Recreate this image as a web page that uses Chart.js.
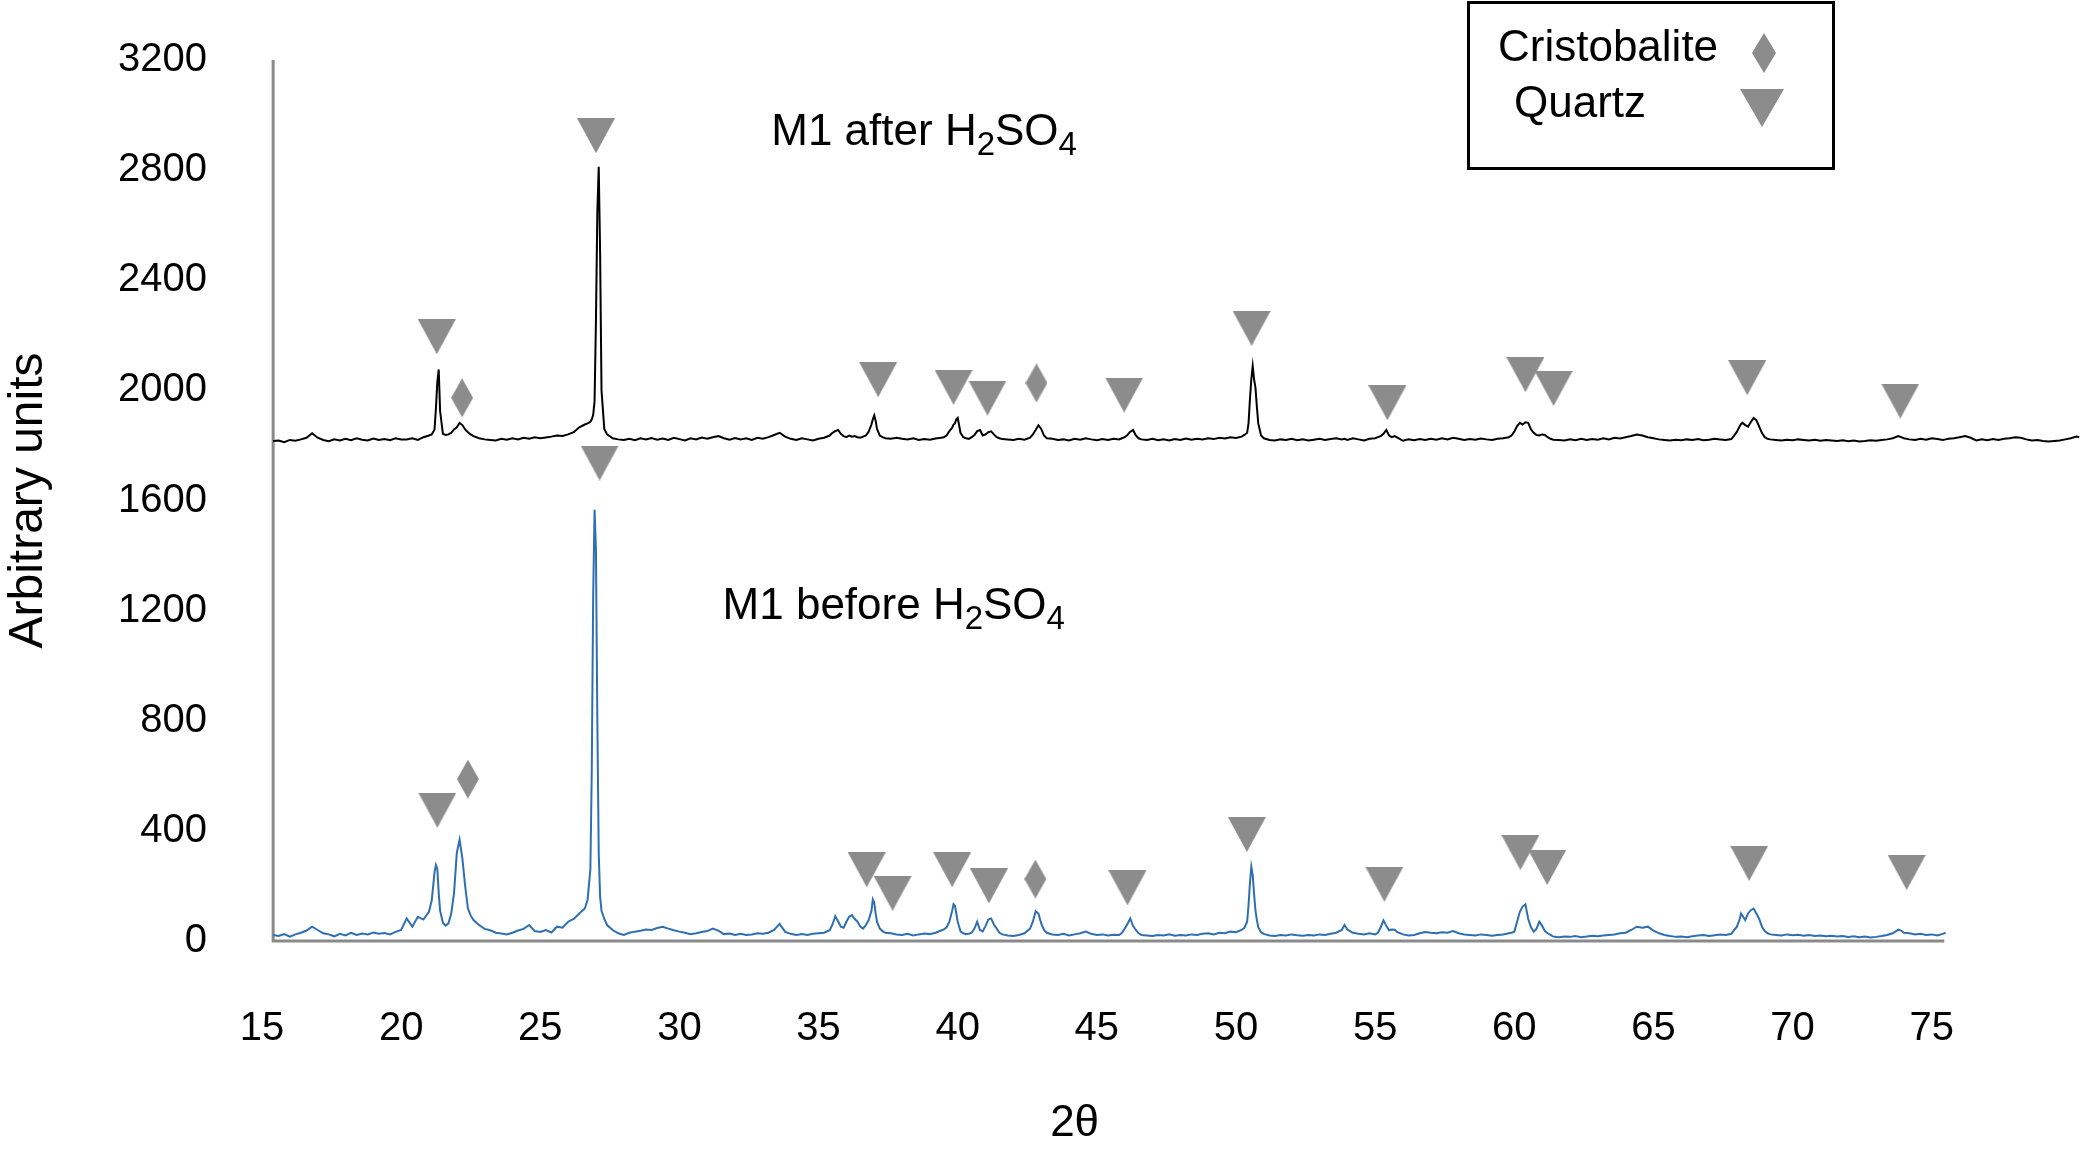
<!DOCTYPE html>
<html>
<head>
<meta charset="utf-8">
<script src="https://cdn.jsdelivr.net/npm/chart.js@4.4.1/dist/chart.umd.min.js"></script>
<style>
  html, body { margin: 0; padding: 0; background: #fff; }
  canvas { display: block; }
</style>
</head>
<body>
<canvas id="xrdChart" width="2088" height="1153"></canvas>
<script>
// 2-theta grid (degrees), shared by both patterns
const twoTheta = [
  15.4,15.6,15.8,16.0,16.2,16.4,16.6,16.8,17.0,17.2,17.4,17.6,17.8,18.0,18.2,18.4,18.6,18.8,19.0,19.2,19.4,19.6,19.8,20.0,
  20.2,20.4,20.6,20.8,21.0,21.1,21.2,21.25,21.3,21.35,21.4,21.5,21.6,21.7,21.8,21.9,22.0,22.1,22.2,22.3,22.4,22.5,22.6,22.8,23.0,
  23.2,23.4,23.6,23.8,24.0,24.2,24.4,24.6,24.8,25.0,25.2,25.4,25.6,25.8,26.0,26.2,26.4,26.6,
  26.7,26.8,26.85,26.9,26.95,27.0,27.05,27.1,27.15,27.2,27.3,27.4,27.6,27.8,
  28.0,28.2,28.4,28.6,28.8,29.0,29.2,29.4,29.6,29.8,30.0,30.2,30.4,30.6,30.8,31.0,31.2,31.4,31.6,31.8,32.0,32.2,32.4,32.6,32.8,33.0,33.2,33.4,33.6,33.8,34.0,34.2,34.4,34.6,34.8,35.0,35.2,35.4,
  35.5,35.6,35.7,35.8,35.9,36.0,36.1,36.2,36.3,36.4,36.5,36.6,36.7,36.8,36.9,36.95,37.0,37.05,37.1,37.2,37.3,37.4,37.6,
  37.8,38.0,38.2,38.4,38.6,38.8,39.0,39.2,39.4,
  39.5,39.6,39.7,39.8,39.85,39.9,39.95,40.0,40.1,40.2,40.3,40.4,40.5,40.6,40.7,40.8,40.9,41.0,41.1,41.2,41.3,41.4,41.5,41.6,
  41.8,42.0,42.2,42.4,42.6,42.7,42.8,42.9,43.0,43.1,43.2,
  43.4,43.6,43.8,44.0,44.2,44.4,44.6,44.8,45.0,45.2,45.4,45.6,45.8,45.9,46.0,46.1,46.2,46.3,46.4,46.5,
  46.6,46.8,47.0,47.2,47.4,47.6,47.8,48.0,48.2,48.4,48.6,48.8,49.0,49.2,49.4,49.6,49.8,50.0,50.2,50.3,50.4,50.45,50.5,50.55,50.6,50.65,50.7,50.75,50.8,50.9,51.0,
  51.2,51.4,51.6,51.8,52.0,52.2,52.4,52.6,52.8,53.0,53.2,53.4,53.6,53.8,53.9,54.0,54.2,54.4,54.6,54.8,55.0,55.1,55.2,55.3,55.4,55.5,55.6,55.7,55.8,
  56.0,56.2,56.4,56.6,56.8,57.0,57.2,57.4,57.6,57.8,58.0,58.2,58.4,58.6,58.8,59.0,59.2,59.4,59.6,59.8,59.9,60.0,60.1,60.2,60.3,60.4,60.5,60.6,60.7,60.8,60.9,61.0,61.1,61.2,61.3,61.4,
  61.6,61.8,62.0,62.2,62.4,62.6,62.8,63.0,63.2,63.4,63.6,63.8,64.0,64.2,64.4,64.6,64.8,65.0,65.2,65.4,65.6,65.8,66.0,66.2,66.4,66.6,66.8,67.0,67.2,67.4,67.6,67.8,
  67.9,68.0,68.1,68.15,68.2,68.3,68.4,68.5,68.6,68.7,68.8,68.9,69.0,69.1,
  69.2,69.4,69.6,69.8,70.0,70.2,70.4,70.6,70.8,71.0,71.2,71.4,71.6,71.8,72.0,72.2,72.4,72.6,72.8,73.0,73.2,73.4,73.6,73.8,73.9,74.0,74.2,74.4,74.6,74.8,75.0,75.2,75.4,75.5,
  75.6,75.8,76.0,76.2,76.4,76.6,76.8,77.0,77.2,77.4,77.6,77.8,78.0,78.2,78.4,78.6,78.8,79.0,79.2,79.4,79.6,79.8,80.0,80.2,80.3
];

// M1 before H2SO4 (blue), stops at 75.5
const beforeH2SO4 = [
  22,18,25,16,24,30,38,52,40,28,24,17,26,20,30,22,27,24,31,26,29,24,33,40,
  82,52,88,78,106,148,250,276,262,175,110,66,56,64,100,173,320,368,300,200,118,92,76,58,44,
  39,30,27,24,30,38,44,58,36,33,40,31,52,48,70,80,100,118,
  150,260,620,1250,1566,1420,800,320,160,110,80,58,40,28,
  22,30,34,37,42,40,47,52,45,39,34,30,25,28,33,36,45,38,25,27,22,26,22,24,28,26,30,40,62,33,26,22,25,22,26,28,30,39,
  60,90,72,52,48,70,88,94,80,70,52,45,58,76,110,151,140,100,70,45,36,30,28,
  24,22,26,20,24,27,25,30,38,
  42,50,70,110,134,128,100,70,35,28,25,26,30,45,70,40,35,55,78,82,60,45,30,24,
  20,18,22,28,45,70,108,100,64,40,30,
  24,22,26,20,24,28,34,26,22,24,20,23,22,30,45,62,82,55,40,28,
  22,20,18,22,20,24,19,22,20,24,22,26,28,24,30,28,34,32,40,48,70,130,210,270,240,170,110,76,50,32,26,
  20,18,22,20,24,21,19,22,20,24,22,26,30,40,58,42,30,26,24,28,24,30,50,75,55,39,42,41,32,
  24,20,22,28,33,30,28,32,30,36,28,24,22,20,24,22,19,22,24,28,30,34,70,106,125,133,80,50,34,45,70,55,36,28,22,16,
  14,16,15,18,14,16,19,17,20,22,24,28,30,40,52,48,52,38,28,22,18,15,16,14,17,20,22,18,21,24,22,26,
  40,52,80,100,92,76,100,112,118,100,80,52,36,28,
  24,22,20,24,21,23,19,22,18,20,17,19,16,18,15,17,14,16,13,15,18,22,28,41,38,30,28,24,26,22,24,20,26,30
];

// M1 after H2SO4 (black)
const afterH2SO4 = [
  1816,1818,1812,1820,1817,1822,1828,1844,1828,1820,1815,1822,1818,1824,1819,1826,1821,1818,1825,1820,1823,1819,1826,1822,
  1822,1826,1820,1830,1836,1840,1858,1935,2030,2076,1925,1842,1838,1840,1846,1858,1866,1882,1874,1858,1848,1840,1834,1826,1822,
  1820,1818,1824,1821,1826,1822,1828,1824,1830,1826,1829,1832,1836,1834,1840,1848,1866,1876,
  1880,1886,1895,1910,1960,2250,2650,2812,2500,2000,1860,1840,1826,1822,
  1820,1824,1819,1826,1822,1827,1821,1825,1820,1828,1823,1818,1826,1822,1829,1824,1830,1834,1826,1821,1827,1822,1826,1820,1828,1824,1830,1838,1846,1832,1824,1820,1826,1822,1818,1824,1828,1836,
  1846,1852,1856,1842,1834,1830,1836,1832,1834,1830,1828,1832,1836,1850,1876,1895,1909,1890,1860,1836,1830,1826,1824,
  1828,1824,1822,1826,1820,1823,1821,1825,1828,
  1830,1836,1852,1864,1876,1880,1895,1900,1846,1830,1826,1824,1830,1838,1852,1856,1836,1840,1848,1851,1840,1830,1826,1823,
  1822,1820,1824,1821,1828,1840,1856,1873,1860,1836,1826,
  1824,1820,1822,1818,1824,1821,1826,1822,1819,1823,1820,1824,1822,1826,1830,1838,1850,1856,1836,1826,
  1822,1820,1824,1819,1822,1818,1823,1820,1825,1821,1824,1822,1826,1823,1828,1825,1830,1827,1832,1838,1846,1880,1967,2040,2088,2040,2009,1940,1880,1836,1826,
  1820,1818,1822,1820,1824,1819,1822,1818,1821,1824,1820,1823,1826,1822,1824,1820,1826,1822,1818,1824,1826,1830,1834,1842,1856,1836,1830,1834,1828,
  1817,1822,1819,1823,1820,1824,1821,1826,1822,1828,1824,1820,1823,1821,1825,1822,1820,1824,1826,1830,1836,1850,1870,1882,1876,1884,1882,1858,1846,1838,1836,1840,1838,1830,1824,1821,
  1820,1818,1822,1819,1824,1820,1823,1821,1826,1822,1828,1825,1830,1834,1840,1836,1830,1826,1822,1820,1818,1821,1819,1822,1820,1823,1819,1821,1824,1822,1820,1823,
  1836,1850,1870,1878,1882,1874,1868,1885,1900,1892,1868,1845,1830,1824,
  1822,1820,1818,1821,1819,1822,1820,1818,1821,1817,1820,1818,1816,1819,1815,1818,1814,1816,1819,1817,1820,1822,1826,1834,1830,1826,1822,1820,1824,1821,1826,1823,1820,1822,
  1824,1826,1830,1834,1828,1818,1822,1819,1823,1820,1824,1826,1830,1828,1822,1818,1820,1816,1814,1816,1818,1822,1826,1832,1830
];

// phase markers (2theta, height where the symbol sits)
const quartzX = [21.28, 27.0, 37.14, 39.85, 41.07, 45.98, 50.56, 55.44, 60.4, 61.41, 68.37, 73.87,
                 21.3, 27.13, 36.73, 37.66, 39.8, 41.12, 46.1, 50.39, 55.33, 60.22, 61.18, 68.44, 74.1];
const quartzY = [2195, 2925, 2039, 2011, 1972, 1983, 2225, 1955, 2057, 2007, 2046, 1961,
                 475, 1736, 259, 173, 259, 200, 193, 387, 206, 321, 267, 282, 249];
const cristobaliteX = [22.19, 42.83, 22.4, 42.79];
const cristobaliteY = [1973, 2027, 588, 225];

const xTicks = [15, 20, 25, 30, 35, 40, 45, 50, 55, 60, 65, 70, 75];
const yTicks = [0, 400, 800, 1200, 1600, 2000, 2400, 2800, 3200];

const FONT = "'Liberation Sans', Arial, Helvetica, sans-serif";
const markGray = '#8c8c8c';
const axisGray = '#8a8a8a';

function triangleDown(w, h) {
  const c = document.createElement('canvas');
  c.width = w; c.height = h;
  const g = c.getContext('2d');
  g.fillStyle = markGray;
  g.beginPath();
  g.moveTo(0, 0); g.lineTo(w, 0); g.lineTo(w / 2, h);
  g.closePath(); g.fill();
  return c;
}

function diamond(w, h) {
  const c = document.createElement('canvas');
  c.width = w; c.height = h;
  const g = c.getContext('2d');
  g.fillStyle = markGray;
  g.beginPath();
  g.moveTo(w / 2, 0); g.lineTo(w, h / 2); g.lineTo(w / 2, h); g.lineTo(0, h / 2);
  g.closePath(); g.fill();
  return c;
}

const quartzIcon = triangleDown(38, 35);
const cristoIcon = diamond(22, 39);
const quartzLegendIcon = triangleDown(44, 38);
const cristoLegendIcon = diamond(24, 40);

// axis lines drawn only over the measured range, like the original
const axisLines = {
  id: 'axisLines',
  beforeDatasetsDraw(chart) {
    const { ctx, scales: { x, y } } = chart;
    const x0 = x.getPixelForValue(15.4);
    ctx.save();
    ctx.strokeStyle = axisGray;
    ctx.lineWidth = 3;
    ctx.beginPath();
    ctx.moveTo(x0, y.getPixelForValue(3200));
    ctx.lineTo(x0, y.getPixelForValue(0));
    ctx.lineTo(x.getPixelForValue(75.45), y.getPixelForValue(0));
    ctx.stroke();
    ctx.restore();
  }
};

function drawFormula(ctx, parts, x, y, size) {
  let cx = x;
  parts.forEach(p => {
    const s = p.sub ? Math.round(size * 0.75) : size;
    ctx.font = s + 'px ' + FONT;
    ctx.fillText(p.t, cx, p.sub ? y + 10 : y);
    cx += ctx.measureText(p.t).width;
  });
}

const annotations = {
  id: 'annotations',
  afterDraw(chart) {
    const { ctx, scales: { x, y }, chartArea } = chart;
    ctx.save();
    ctx.fillStyle = '#000';
    ctx.textBaseline = 'alphabetic';
    ctx.textAlign = 'left';
    drawFormula(ctx, [{ t: 'M1 after H' }, { t: '2', sub: true }, { t: 'SO' }, { t: '4', sub: true }],
      x.getPixelForValue(33.3), y.getPixelForValue(2950) + 16, 44);
    drawFormula(ctx, [{ t: 'M1 before H' }, { t: '2', sub: true }, { t: 'SO' }, { t: '4', sub: true }],
      x.getPixelForValue(31.55), y.getPixelForValue(1229) + 16, 44);

    // x axis title
    ctx.font = '44px ' + FONT;
    ctx.textAlign = 'center';
    ctx.textBaseline = 'middle';
    ctx.fillText('2\u03B8', x.getPixelForValue(44.2), chartArea.bottom + 183);

    // legend box
    ctx.strokeStyle = '#000';
    ctx.lineWidth = 3;
    ctx.strokeRect(1468.5, 2.5, 365, 166);
    ctx.textAlign = 'left';
    ctx.font = '44px ' + FONT;
    ctx.fillText('Cristobalite', 1498, 49);
    ctx.fillText('Quartz', 1514, 105);
    ctx.drawImage(cristoLegendIcon, 1764 - 12, 53 - 20);
    ctx.drawImage(quartzLegendIcon, 1762 - 22, 108 - 19);
    ctx.restore();
  }
};

const ctx = document.getElementById('xrdChart').getContext('2d');
new Chart(ctx, {
  type: 'scatter',
  data: {
    datasets: [
      {
        label: 'Quartz',
        data: quartzX.map((v, i) => ({ x: v, y: quartzY[i] })),
        pointStyle: quartzIcon,
        pointRadius: 5
      },
      {
        label: 'Cristobalite',
        data: cristobaliteX.map((v, i) => ({ x: v, y: cristobaliteY[i] })),
        pointStyle: cristoIcon,
        pointRadius: 5
      },
      {
        label: 'M1 after H2SO4',
        data: afterH2SO4.map((v, i) => ({ x: twoTheta[i], y: v })),
        showLine: true,
        borderColor: '#000',
        borderWidth: 2,
        pointRadius: 0,
        tension: 0
      },
      {
        label: 'M1 before H2SO4',
        data: beforeH2SO4.map((v, i) => ({ x: twoTheta[i], y: v })),
        showLine: true,
        borderColor: '#2e6fb2',
        borderWidth: 2,
        pointRadius: 0,
        tension: 0
      }
    ]
  },
  options: {
    responsive: false,
    animation: false,
    devicePixelRatio: 1,
    layout: { padding: { top: 60, right: 6, left: 0, bottom: 0 } },
    plugins: {
      legend: { display: false },
      tooltip: { enabled: false }
    },
    scales: {
      x: {
        type: 'linear',
        min: 15,
        max: 80.4,
        grid: { display: false },
        border: { display: false },
        ticks: { font: { family: FONT, size: 40 }, color: '#000', padding: 56 },
        afterBuildTicks: s => { s.ticks = xTicks.map(v => ({ value: v })); },
        afterFit: s => { s.height = 212; s.paddingLeft = 0; s.paddingRight = 0; }
      },
      y: {
        min: 0,
        max: 3200,
        grid: { display: false },
        border: { display: false },
        ticks: {
          font: { family: FONT, size: 40 },
          color: '#000',
          padding: 47,
          callback: v => String(v)
        },
        afterBuildTicks: s => { s.ticks = yTicks.map(v => ({ value: v })); },
        title: {
          display: true,
          text: 'Arbitrary units',
          color: '#000',
          font: { family: FONT, size: 48 },
          padding: 0
        },
        afterFit: s => { s.width = 262; s.paddingTop = 0; s.paddingBottom = 0; }
      }
    }
  },
  plugins: [axisLines, annotations]
});
</script>
</body>
</html>
